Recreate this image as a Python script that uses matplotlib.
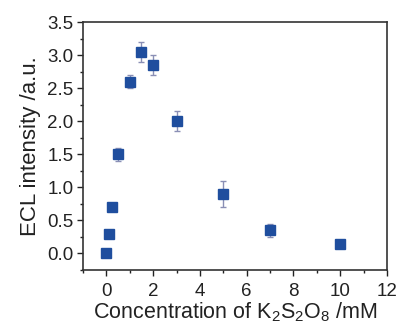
import numpy as np
import matplotlib.pyplot as plt
from matplotlib.ticker import MultipleLocator

plt.rcParams['font.family'] = ['Liberation Sans', 'DejaVu Sans']
plt.rcParams['mathtext.fontset'] = 'custom'
plt.rcParams['mathtext.rm'] = 'Liberation Sans'

# concentration of K2S2O8 (mM) vs ECL intensity
conc = [0, 0.1, 0.25, 0.5, 1, 1.5, 2, 3, 5, 7, 10]
ecl = [0.0, 0.3, 0.7, 1.5, 2.6, 3.05, 2.85, 2.0, 0.9, 0.35, 0.15]
err = [0.02, 0.03, 0.05, 0.1, 0.1, 0.15, 0.15, 0.15, 0.2, 0.1, 0.05]

fig = plt.figure(figsize=(3.98, 3.24), dpi=100)
ax = fig.add_axes([83/398, 1 - 270/324, (387-83)/398, (270-22)/324])

ax.errorbar(conc, ecl, yerr=err, fmt='s', color='#1f4e9e', markersize=7.5,
            ecolor='#8a8fb5', elinewidth=1, capsize=2, capthick=1)

ax.set_xlim(-1, 12)
ax.set_ylim(-0.25, 3.5)
ax.xaxis.set_major_locator(MultipleLocator(2))
ax.xaxis.set_minor_locator(MultipleLocator(1))
ax.yaxis.set_major_locator(MultipleLocator(0.5))
ax.yaxis.set_minor_locator(MultipleLocator(0.25))
ax.tick_params(which='both', direction='out', labelsize=13.5, width=1,
               colors='#222222')
ax.tick_params(which='major', length=4, pad=3)
ax.tick_params(axis='x', which='major', pad=5)
ax.tick_params(which='minor', length=2.5)
for s in ax.spines.values():
    s.set_linewidth(1.2)
    s.set_color('#333333')

ax.set_xlabel(r"Concentration of K$_\mathrm{2}$S$_\mathrm{2}$O$_\mathrm{8}$ /mM",
              fontsize=15.5, labelpad=0.5, color='#222222')
ax.set_ylabel("ECL intensity /a.u.", fontsize=16, labelpad=4, color='#222222')

fig.savefig("out.png", dpi=100)
